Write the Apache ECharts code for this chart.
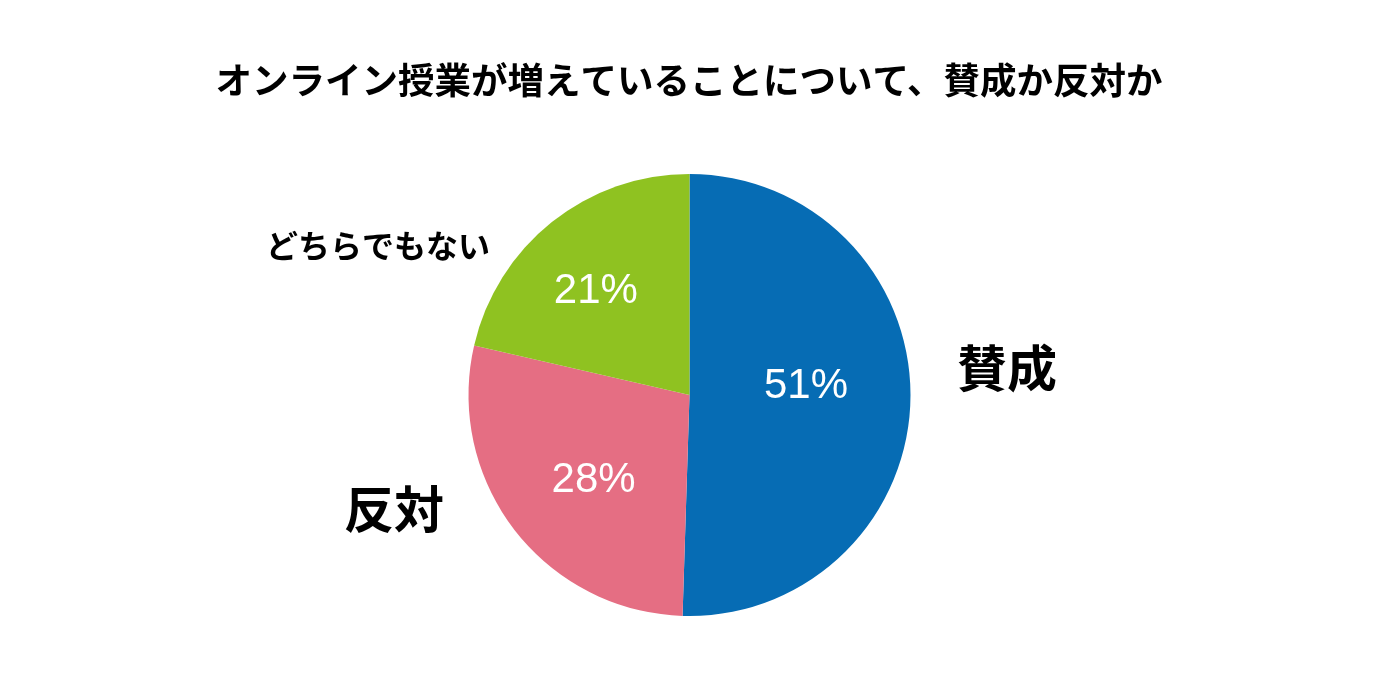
<!DOCTYPE html>
<html>

<head>
    <meta charset="utf-8">
    <title>ECharts</title>
    <script src="https://cdn.jsdelivr.net/npm/echarts@6/dist/echarts.min.js"></script>
    <style>
        html, body { margin: 0; padding: 0; background: #fff; }
    </style>
</head>

<body>
    <div id="main" style="width: 1378px;height: 676px;"></div>
    <script type="text/javascript">
        // データ
        var titleText = 'オンライン授業が増えていることについて、賛成か反対か';
        var categories = ['賛成', '反対', 'どちらでもない'];
        var values = [50.5, 28.1, 21.4];
        var colors = ['#066cb4', '#e56e83', '#8fc221'];

        var myChart = echarts.init(document.getElementById('main'));

        // 円の中心と半径
        var cx = 689.5, cy = 395, r = 221;

        // 外側のカテゴリ名の位置・サイズ
        var nameStyle = [
            { x: 1007, y: 368, size: 50 },
            { x: 394, y: 509, size: 50 },
            { x: 378, y: 246, size: 32 }
        ];
        // 内側ラベルの微調整
        var labelShift = [[3, -10], [-6, 16], [-23, -15]];

        var pieData = [];
        for (var i = 0; i < categories.length; i++) {
            pieData.push({
                name: categories[i],
                value: values[i],
                itemStyle: { color: colors[i] }
            });
        }

        var graphics = [];
        for (var j = 0; j < categories.length; j++) {
            graphics.push({
                type: 'text',
                x: nameStyle[j].x,
                y: nameStyle[j].y,
                style: {
                    text: categories[j],
                    fill: '#000',
                    font: 'bold ' + nameStyle[j].size + 'px "Noto Sans CJK JP"',
                    textAlign: 'center',
                    textVerticalAlign: 'middle'
                }
            });
        }

        var option = {
            backgroundColor: '#fff',
            animation: false,
            title: {
                text: titleText,
                left: 'center',
                top: 57,
                textStyle: {
                    fontFamily: 'Noto Sans CJK JP',
                    fontWeight: 'bold',
                    fontSize: 36.5,
                    color: '#000'
                }
            },
            graphic: graphics,
            series: [
                {
                    type: 'pie',
                    center: [cx, cy],
                    radius: r,
                    startAngle: 90,
                    clockwise: true,
                    silent: true,
                    itemStyle: { borderWidth: 0 },
                    label: {
                        show: true,
                        position: 'inside',
                        formatter: function (p) {
                            return Math.round(p.value) + '%';
                        },
                        color: '#fff',
                        fontSize: 42,
                        fontFamily: 'Liberation Sans'
                    },
                    labelLine: { show: false },
                    labelLayout: function (params) {
                        var s = labelShift[params.dataIndex];
                        return { dx: s[0], dy: s[1] };
                    },
                    data: pieData
                }
            ]
        };

        myChart.setOption(option);
        window.onresize = myChart.resize;
    </script>
</body>

</html>
